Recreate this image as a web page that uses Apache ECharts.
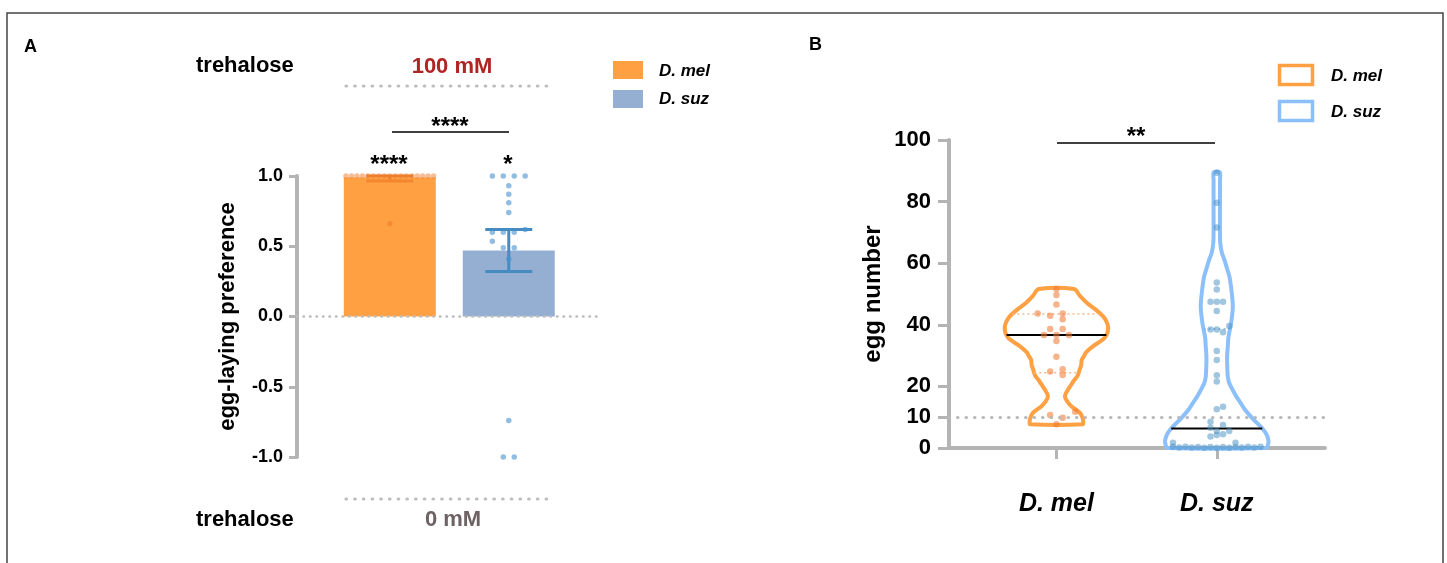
<!DOCTYPE html>
<html>
<head>
  <meta charset="utf-8">
  <script src="https://cdn.jsdelivr.net/npm/echarts@6/dist/echarts.min.js"></script>
</head>
<style>
  html, body { margin: 0; padding: 0; background: #fff; }
  #main { width: 1447px; height: 563px; }
</style>
<body>
  <div id="main"></div>
  <script>
    // ---- data ----
    var groups = ['D. mel', 'D. suz'];

    // A: egg-laying preference (bar = mean, error bar low/high)
    var prefMean = [0.99, 0.47];
    var prefLow = [0.965, 0.32];
    var prefHigh = [1.0, 0.62];
    var prefMel = [1, 1, 1, 1, 1, 1, 1, 1, 1, 1, 1, 1, 1, 1, 1, 1, 1, 0.66];
    var prefMelSlot = [-8, -7, -6, -5, -4, -3, -2, -1, 0, 1, 2, 3, 4, 5, 6, 7, 8, 0];
    var prefSuz = [1, 1, 1, 1, 0.93, 0.87, 0.81, 0.74, 0.60, 0.60, 0.60, 0.62, 0.535, 0.49, 0.49, 0.41, -0.74, -1, -1];
    var prefSuzSlot = [-3, -1, 1, 3, 0, 0, 0, 0, -3, -1, 1, 3, -3, -1, 1, 0, 0, -1, 1];
    var prefTicks = [-1, -0.5, 0, 0.5, 1];

    // B: egg number per fly
    var eggMel = [51.6, 49.7, 46.6, 43.7, 42.9, 43.7, 41.8, 38.6, 38.6, 36.7, 36.7, 36.7, 34.7, 29.6, 24.8, 25.6, 23.7, 10.7, 9.8, 11.8, 7.7];
    var eggMelSlot = [0, 0, 0, -3, -1, 1, 1, -1, 1, -2, 0, 2, 0, 0, -1, 1, 1, -1, 1, 3, 0];
    var eggSuz = [89.4, 79.6, 71.6, 53.7, 51.5, 47.5, 47.5, 47.5, 44.5, 38.5, 38.5, 37.6, 39.6, 31.5, 28.6, 23.6, 21.6,
      12.6, 13.4, 8.5, 6.6, 7.5, 5.5, 5.5, 3.7, 4.2, 4.5, 1.7, 1.7,
      0.4, 0.2, 0.4, 0.2, 0.3, 0.1, 0.3, 0.1, 0.3, 0.1, 0.3, 0.2, 0.4, 0.2, 0.4];
    var eggSuzSlot = [0, 0, 0, 0, 0, -1, 0, 1, 0, -1, 0, 1, 2, 0, 0, 0, 0,
      0, 1, -1, -1, 1, 0, 2, -1, 0, 1, -7, 3,
      -7, -6, -5, -4, -3, -2, -1, 0, 1, 2, 3, 4, 5, 6, 7];
    var eggTicks = [0, 10, 20, 40, 60, 80, 100];
    var eggMedian = [36.7, 6.3];
    var eggQuartiles = [[24.4, 43.5], [38.6]];

    // violin outlines: egg level -> relative width
    var melViolinY = [7.7, 8.5, 9.5, 11.3, 13.5, 15, 16.5, 17.5, 19, 20, 22, 23.5, 25.5, 27, 28.6, 30, 31, 33, 35, 36.1, 37.5, 39.4, 41, 42.6, 45, 47, 49.5, 51.6];
    var melViolinW = [26, 26.5, 26, 23.5, 15, 11, 8.5, 9, 11.5, 13.5, 17.5, 21, 23, 24.5, 25, 27.5, 29, 36, 45, 48.4, 50.5, 51, 49.5, 46.5, 38.5, 30.5, 23, 17.5];
    var suzViolinY = [0, 1, 2.6, 4.8, 6.9, 8.5, 10.2, 12.5, 14.5, 17, 18.8, 21, 23.1, 26, 29.6, 33, 36.1, 40.5, 45.9, 50.2, 55.6, 58, 61, 63.5, 66.5, 70, 80, 87, 89.5];
    var suzViolinW = [49, 51, 51.5, 49, 44, 39, 34, 28, 24, 19, 16, 12.5, 11, 10.5, 10.3, 11, 11.7, 14.3, 16, 15, 12.7, 10.5, 7.7, 5, 3.5, 3.2, 3.2, 3.2, 3];

    // ---- style ----
    var FONT = '"Liberation Sans", Arial, Helvetica, sans-serif';
    var ORANGE = '#ffa143';
    var BAR_BLUE = '#95afd3';
    var VIO_BLUE = '#8cc0fb';
    var AXIS_GREY = '#b4b4b4';
    var SLOT_A = 0.046;
    var SLOT_B = 0.039;
    var VIOLIN_HALF = 0.322;

    function swarm(center, values, slots, step) {
      return values.map(function (v, i) { return [center + slots[i] * step, v]; });
    }

    function widthAt(ys, ws, v) {
      if (v <= ys[0]) return ws[0];
      for (var i = 1; i < ys.length; i++) {
        if (v <= ys[i]) {
          var t = (v - ys[i - 1]) / (ys[i] - ys[i - 1]);
          return ws[i - 1] + t * (ws[i] - ws[i - 1]);
        }
      }
      return ws[ws.length - 1];
    }

    function violinRender(center, ys, ws, median, quartiles, stroke, qColor) {
      var wMax = Math.max.apply(null, ws);
      function half(v) { return widthAt(ys, ws, v) / wMax * VIOLIN_HALF; }
      return function (params, api) {
        var pts = [], i;
        for (i = 0; i < ys.length; i++) pts.push(api.coord([center + ws[i] / wMax * VIOLIN_HALF, ys[i]]));
        for (i = ys.length - 1; i >= 0; i--) pts.push(api.coord([center - ws[i] / wMax * VIOLIN_HALF, ys[i]]));
        var children = [{
          type: 'polygon',
          shape: { points: pts, smooth: 0.3 },
          style: { fill: 'none', stroke: stroke, lineWidth: 4, lineJoin: 'round' }
        }];
        quartiles.forEach(function (q) {
          var a = api.coord([center - half(q), q]), b = api.coord([center + half(q), q]);
          children.push({
            type: 'line', shape: { x1: a[0], y1: a[1], x2: b[0], y2: b[1] },
            style: { stroke: qColor, lineWidth: 1.5, lineDash: [2, 3] }
          });
        });
        var m1 = api.coord([center - half(median), median]), m2 = api.coord([center + half(median), median]);
        children.push({
          type: 'line', shape: { x1: m1[0], y1: m1[1], x2: m2[0], y2: m2[1] },
          style: { stroke: '#000', lineWidth: 2 }
        });
        return { type: 'group', children: children };
      };
    }

    var errColors = ['#f3862e', '#468cc3'];

    var chart = echarts.init(document.getElementById('main'));

    var option = {
      animation: false,
      backgroundColor: '#fff',
      textStyle: { fontFamily: FONT },
      grid: [
        { left: 297, top: 176, width: 301, height: 281 },
        { left: 949, top: 140, width: 376, height: 308 }
      ],
      xAxis: [
        { type: 'value', gridIndex: 0, min: 0.22, max: 2.75, show: false },
        {
          type: 'value', gridIndex: 1, min: 0.33, max: 2.675,
          splitLine: { show: false },
          axisLine: { lineStyle: { color: AXIS_GREY, width: 4 } },
          axisTick: { customValues: [1, 2], length: 11, lineStyle: { color: AXIS_GREY, width: 3 } },
          axisLabel: {
            customValues: [1, 2], margin: 44,
            formatter: function (v) { return groups[Math.round(v) - 1]; },
            color: '#000', fontWeight: 'bold', fontStyle: 'italic', fontSize: 25, fontFamily: FONT
          }
        }
      ],
      yAxis: [
        {
          type: 'value', gridIndex: 0, min: -1, max: 1, interval: 0.5,
          splitLine: { show: false },
          axisLine: { lineStyle: { color: AXIS_GREY, width: 4 } },
          axisTick: { length: 8, lineStyle: { color: AXIS_GREY, width: 3 } },
          axisLabel: {
            customValues: prefTicks, margin: 14,
            formatter: function (v) { return v.toFixed(1); },
            color: '#000', fontWeight: 'bold', fontSize: 18, fontFamily: FONT
          },
          name: 'egg-laying preference', nameLocation: 'middle', nameGap: 58,
          nameTextStyle: { color: '#000', fontWeight: 'bold', fontSize: 22, fontFamily: FONT }
        },
        {
          type: 'value', gridIndex: 1, min: 0, max: 100,
          splitLine: { show: false },
          axisLine: { lineStyle: { color: AXIS_GREY, width: 4 } },
          axisTick: { customValues: eggTicks, length: 11, lineStyle: { color: AXIS_GREY, width: 3 } },
          axisLabel: {
            customValues: eggTicks, margin: 18,
            color: '#000', fontWeight: 'bold', fontSize: 22, fontFamily: FONT
          },
          name: 'egg number', nameLocation: 'middle', nameGap: 64,
          nameTextStyle: { color: '#000', fontWeight: 'bold', fontSize: 24, fontFamily: FONT }
        }
      ],
      series: [
        {
          type: 'bar', xAxisIndex: 0, yAxisIndex: 0, barWidth: 92, z: 1,
          data: [
            { value: [1, prefMean[0]], itemStyle: { color: ORANGE } },
            { value: [2, prefMean[1]], itemStyle: { color: BAR_BLUE } }
          ],
          markLine: {
            silent: true, symbol: 'none', label: { show: false },
            lineStyle: { color: '#bdbdbd', type: [0.5, 6], width: 2.6, cap: 'round' },
            data: [{ yAxis: 0 }]
          }
        },
        {
          type: 'custom', xAxisIndex: 0, yAxisIndex: 0, z: 3, clip: false,
          data: prefMean.map(function (m, i) { return [i + 1, prefLow[i], prefHigh[i], i]; }),
          renderItem: function (params, api) {
            var x = api.value(0), lo = api.value(1), hi = api.value(2), c = errColors[api.value(3)];
            var pLo = api.coord([x, lo]), pHi = api.coord([x, hi]);
            var cap = 23.5, st = { stroke: c, lineWidth: 3 };
            return {
              type: 'group', children: [
                { type: 'line', shape: { x1: pLo[0], y1: pLo[1], x2: pHi[0], y2: pHi[1] }, style: st },
                { type: 'line', shape: { x1: pLo[0] - cap, y1: pLo[1], x2: pLo[0] + cap, y2: pLo[1] }, style: st },
                { type: 'line', shape: { x1: pHi[0] - cap, y1: pHi[1], x2: pHi[0] + cap, y2: pHi[1] }, style: st }
              ]
            };
          }
        },
        {
          type: 'scatter', xAxisIndex: 0, yAxisIndex: 0, z: 4, clip: false, symbolSize: 5.5,
          itemStyle: { color: 'rgba(235,115,35,0.6)' },
          data: swarm(1, prefMel, prefMelSlot, SLOT_A)
        },
        {
          type: 'scatter', xAxisIndex: 0, yAxisIndex: 0, z: 4, clip: false, symbolSize: 5.5,
          itemStyle: { color: 'rgba(70,145,205,0.75)' },
          data: swarm(2, prefSuz, prefSuzSlot, SLOT_A)
        },
        {
          type: 'custom', xAxisIndex: 1, yAxisIndex: 1, z: 2, clip: false,
          data: [[1, eggMedian[0]]],
          renderItem: violinRender(1, melViolinY, melViolinW, eggMedian[0], eggQuartiles[0], ORANGE, '#f8b98a')
        },
        {
          type: 'custom', xAxisIndex: 1, yAxisIndex: 1, z: 2, clip: false,
          data: [[2, eggMedian[1]]],
          renderItem: violinRender(2, suzViolinY, suzViolinW, eggMedian[1], eggQuartiles[1], VIO_BLUE, '#7fb0df')
        },
        {
          type: 'scatter', xAxisIndex: 1, yAxisIndex: 1, z: 4, clip: false, symbolSize: 6.5,
          itemStyle: { color: 'rgba(240,120,50,0.7)' },
          data: swarm(1, eggMel, eggMelSlot, SLOT_B)
        },
        {
          type: 'scatter', xAxisIndex: 1, yAxisIndex: 1, z: 4, clip: false, symbolSize: 6.5,
          itemStyle: { color: 'rgba(75,145,195,0.65)' },
          data: swarm(2, eggSuz, eggSuzSlot, SLOT_B),
          markLine: {
            silent: true, symbol: 'none', label: { show: false },
            lineStyle: { color: '#b8b8b8', type: [0.5, 8], width: 3, cap: 'round' },
            data: [{ yAxis: 10 }]
          }
        }
      ],
      graphic: [
        // frame
        { type: 'polyline', shape: { points: [[7, 563], [7, 13], [1443, 13], [1443, 563]] }, style: { stroke: '#444', lineWidth: 1.5, fill: 'none' }, silent: true },
        { type: 'text', left: 24, top: 38, style: { text: 'A', font: 'bold 18px ' + FONT, fill: '#000' } },
        { type: 'text', left: 809, top: 36, style: { text: 'B', font: 'bold 18px ' + FONT, fill: '#000' } },

        // A: trehalose labels
        { type: 'text', x: 196, y: 66, style: { text: 'trehalose', font: 'bold 22px ' + FONT, fill: '#000', verticalAlign: 'middle' } },
        { type: 'text', x: 452, y: 67, style: { text: '100 mM', font: 'bold 22px ' + FONT, fill: '#b02424', align: 'center', verticalAlign: 'middle' } },
        { type: 'line', shape: { x1: 346, y1: 86, x2: 551, y2: 86 }, style: { stroke: '#bdbdbd', lineWidth: 3.2, lineDash: [0.5, 8.2], lineCap: 'round' } },
        { type: 'line', shape: { x1: 346, y1: 499, x2: 551, y2: 499 }, style: { stroke: '#bdbdbd', lineWidth: 3.2, lineDash: [0.5, 8.2], lineCap: 'round' } },
        { type: 'text', x: 196, y: 520, style: { text: 'trehalose', font: 'bold 22px ' + FONT, fill: '#000', verticalAlign: 'middle' } },
        { type: 'text', x: 453, y: 520, style: { text: '0 mM', font: 'bold 22px ' + FONT, fill: '#6e6264', align: 'center', verticalAlign: 'middle' } },

        // A: significance
        { type: 'line', shape: { x1: 392, y1: 132, x2: 509, y2: 132 }, style: { stroke: '#000', lineWidth: 1.6 } },
        { type: 'text', x: 450, y: 139, style: { text: '****', font: 'bold 24px ' + FONT, fill: '#000', align: 'center', verticalAlign: 'bottom' } },
        { type: 'text', x: 389, y: 177, style: { text: '****', font: 'bold 24px ' + FONT, fill: '#000', align: 'center', verticalAlign: 'bottom' } },
        { type: 'text', x: 508, y: 177, style: { text: '*', font: 'bold 24px ' + FONT, fill: '#000', align: 'center', verticalAlign: 'bottom' } },

        // A: legend
        { type: 'rect', shape: { x: 613, y: 61, width: 30, height: 18 }, style: { fill: ORANGE } },
        { type: 'rect', shape: { x: 613, y: 90, width: 30, height: 18 }, style: { fill: BAR_BLUE } },
        { type: 'text', x: 659, y: 71, style: { text: 'D. mel', font: 'italic bold 17px ' + FONT, fill: '#000', verticalAlign: 'middle' } },
        { type: 'text', x: 659, y: 99, style: { text: 'D. suz', font: 'italic bold 17px ' + FONT, fill: '#000', verticalAlign: 'middle' } },

        // B: significance
        { type: 'line', shape: { x1: 1057, y1: 143, x2: 1215, y2: 143 }, style: { stroke: '#000', lineWidth: 1.6 } },
        { type: 'text', x: 1136, y: 149, style: { text: '**', font: 'bold 24px ' + FONT, fill: '#000', align: 'center', verticalAlign: 'bottom' } },

        // B: legend
        { type: 'rect', shape: { x: 1279.5, y: 65.5, width: 33, height: 19 }, style: { fill: 'none', stroke: ORANGE, lineWidth: 3.5 } },
        { type: 'rect', shape: { x: 1279.5, y: 101.5, width: 33, height: 19 }, style: { fill: 'none', stroke: VIO_BLUE, lineWidth: 3.5 } },
        { type: 'text', x: 1331, y: 76.5, style: { text: 'D. mel', font: 'italic bold 17px ' + FONT, fill: '#000', verticalAlign: 'middle' } },
        { type: 'text', x: 1331, y: 112, style: { text: 'D. suz', font: 'italic bold 17px ' + FONT, fill: '#000', verticalAlign: 'middle' } }
      ]
    };

    chart.setOption(option);
  </script>
</body>
</html>
